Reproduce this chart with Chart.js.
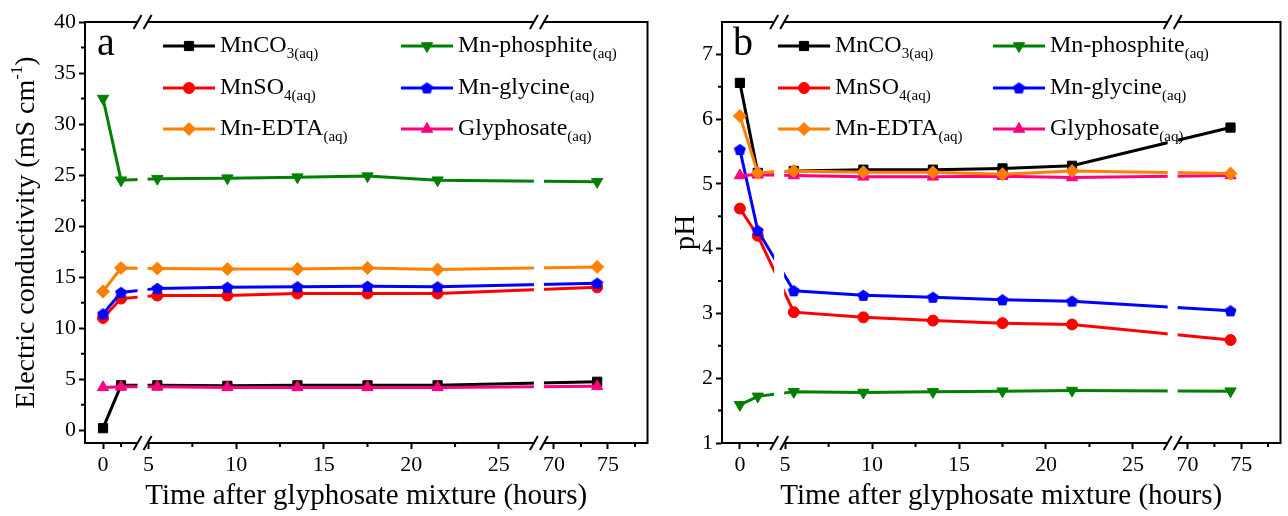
<!DOCTYPE html>
<html>
<head>
<meta charset="utf-8">
<script src="https://cdn.jsdelivr.net/npm/chart.js@4.4.0/dist/chart.umd.min.js"></script>
<style>
  html, body { margin: 0; padding: 0; background: #fff; }
  .panel { position: absolute; top: 0; height: 516px; }
  #wrapA { left: 0; width: 655px; }
  #wrapB { left: 655px; width: 633px; }
</style>
</head>
<body>
<div class="panel" id="wrapA"><canvas id="chartA"></canvas></div>
<div class="panel" id="wrapB"><canvas id="chartB"></canvas></div>
<script>
// sampling times (hours after mixing)
const hours = [0, 1, 5.5, 9.5, 13.5, 17.5, 21.5, 74];
const xTicks = [0, 5, 10, 15, 20, 25, 70, 75];
const xMinor = [1, 7.5, 12.5, 17.5, 22.5, 72.5, 77.5];

const seriesNames = ['MnCO', 'MnSO', 'Mn-EDTA', 'Mn-phosphite', 'Mn-glycine', 'Glyphosate'];
const seriesSubs = ['3(aq)', '4(aq)', '(aq)', '(aq)', '(aq)', '(aq)'];
const seriesColors = ['#000000', '#ff0000', '#ff8000', '#008000', '#0000ff', '#ff0080'];

// electric conductivity (mS cm-1)
const ecMnCO3 = [0.2, 4.4, 4.4, 4.35, 4.4, 4.4, 4.4, 4.75];
const ecMnSO4 = [11.0, 12.9, 13.2, 13.2, 13.4, 13.4, 13.4, 14.0];
const ecMnEDTA = [13.6, 15.9, 15.85, 15.8, 15.8, 15.9, 15.75, 16.0];
const ecMnPhosphite = [32.5, 24.5, 24.65, 24.7, 24.8, 24.9, 24.5, 24.35];
const ecMnGlycine = [11.4, 13.5, 13.9, 14.0, 14.05, 14.1, 14.05, 14.4];
const ecGlyphosate = [4.2, 4.25, 4.25, 4.2, 4.2, 4.2, 4.2, 4.3];

// pH
const phMnCO3 = [6.56, 5.17, 5.2, 5.22, 5.22, 5.24, 5.28, 5.87];
const phMnSO4 = [4.62, 4.2, 3.02, 2.94, 2.89, 2.85, 2.83, 2.59];
const phMnEDTA = [6.05, 5.17, 5.2, 5.18, 5.18, 5.15, 5.2, 5.16];
const phMnPhosphite = [1.59, 1.72, 1.79, 1.78, 1.79, 1.8, 1.81, 1.8];
const phMnGlycine = [5.53, 4.28, 3.35, 3.28, 3.25, 3.21, 3.19, 3.04];
const phGlyphosate = [5.13, 5.14, 5.13, 5.11, 5.11, 5.12, 5.1, 5.13];

const ecTicks = [0, 5, 10, 15, 20, 25, 30, 35, 40];
const ecMinor = [2.5, 7.5, 12.5, 17.5, 22.5, 27.5, 32.5, 37.5];
const phTicks = [1, 2, 3, 4, 5, 6, 7];
const phMinor = [1.5, 2.5, 3.5, 4.5, 5.5, 6.5];

const serif = '"Liberation Serif", "Times New Roman", serif';

// broken time axis: hours -> axis units (three segments)
function toAxis(h) {
    if (h < 3) return 18 + 18 * h;
    if (h < 40) return 63.5 + 17.5 * (h - 5);
    return 468.5 + 10.8 * (h - 70);
}
const axisBreaks = [57.5, 453.5];

// pentagon marker for Mn-glycine
function pentagon(color) {
    const c = document.createElement('canvas');
    c.width = 13; c.height = 13;
    const g = c.getContext('2d');
    g.fillStyle = color;
    g.beginPath();
    for (let k = 0; k < 5; k++) {
        const a = -Math.PI / 2 + k * 2 * Math.PI / 5;
        const px = 6.5 + 6.3 * Math.cos(a), py = 7 + 6.3 * Math.sin(a);
        k ? g.lineTo(px, py) : g.moveTo(px, py);
    }
    g.closePath();
    g.fill();
    return c;
}

const seriesMarkers = ['rect', 'circle', 'rectRot', 'triangle', pentagon('#0000ff'), 'triangle'];
const seriesRotation = [0, 0, 0, 180, 0, 0];
const seriesRadius = [6.5, 5.5, 6.5, 6.5, 6, 6.5];
const drawOrder = [6, 5, 1, 4, 3, 2];

function drawRichText(ctx, x, y, main, sub, size, subSize, shift) {
    ctx.font = size + 'px ' + serif;
    ctx.fillText(main, x, y);
    const w = ctx.measureText(main).width;
    ctx.font = subSize + 'px ' + serif;
    ctx.fillText(sub, x + w, y + shift);
    return w + ctx.measureText(sub).width;
}

const panelDecor = {
    id: 'panelDecor',
    afterDatasetsDraw(chart, args, cfg) {
        const {ctx, chartArea: area, scales: {x, y}} = chart;
        ctx.save();
        ctx.strokeStyle = '#000';
        ctx.lineWidth = 2;
        // top and right frame
        ctx.beginPath();
        ctx.moveTo(area.left - 1, area.top);
        ctx.lineTo(area.right, area.top);
        ctx.lineTo(area.right, area.bottom + 1);
        ctx.stroke();
        // minor ticks
        ctx.beginPath();
        xMinor.forEach(h => {
            const px = x.getPixelForValue(toAxis(h));
            ctx.moveTo(px, area.bottom);
            ctx.lineTo(px, area.bottom + 4);
        });
        cfg.yMinor.forEach(v => {
            const py = y.getPixelForValue(v);
            ctx.moveTo(area.left, py);
            ctx.lineTo(area.left - 4, py);
        });
        ctx.stroke();
        // axis breaks: white gap plus double slash on both frame edges
        axisBreaks.forEach(b => {
            const px = x.getPixelForValue(b);
            ctx.fillStyle = '#fff';
            ctx.fillRect(px - 5, area.top - 3, 10, area.bottom - area.top + 6);
            ctx.beginPath();
            [area.top, area.bottom].forEach(py => {
                [-5, 5].forEach(dx => {
                    ctx.moveTo(px + dx - 4, py + 7);
                    ctx.lineTo(px + dx + 4, py - 7);
                });
            });
            ctx.stroke();
        });
        ctx.restore();
    },
    afterDraw(chart, args, cfg) {
        const {ctx, chartArea: area} = chart;
        ctx.save();
        ctx.fillStyle = '#000';
        ctx.textBaseline = 'middle';
        ctx.textAlign = 'center';
        ctx.font = '40px ' + serif;
        ctx.fillText(cfg.letter, area.left + 21, area.top + 22);

        // legend, two columns of three
        ctx.textAlign = 'left';
        chart.data.datasets.forEach((ds, i) => {
            const lx = area.left + cfg.legendCols[Math.floor(i / 3)];
            const ly = area.top + cfg.legendRows[i % 3];
            ctx.strokeStyle = ds.borderColor;
            ctx.fillStyle = ds.borderColor;
            ctx.lineWidth = 3;
            ctx.beginPath();
            ctx.moveTo(lx, ly);
            ctx.lineTo(lx + 52, ly);
            ctx.stroke();
            ctx.lineWidth = 1;
            Chart.helpers.drawPoint(ctx, {
                pointStyle: ds.pointStyle, rotation: ds.pointRotation,
                radius: ds.pointRadius, borderWidth: 1
            }, lx + 26, ly);
            ctx.fillStyle = '#000';
            drawRichText(ctx, lx + 57, ly, seriesNames[i], seriesSubs[i], 24, 15, 8);
        });

        // y title with superscript
        if (cfg.yTitle) {
            const t = cfg.yTitle;
            ctx.translate(t.x, (area.top + area.bottom) / 2);
            ctx.rotate(-Math.PI / 2);
            ctx.font = '28px ' + serif;
            const w1 = ctx.measureText(t.main).width;
            const w3 = ctx.measureText(t.end).width;
            ctx.font = '17px ' + serif;
            const w2 = ctx.measureText(t.sup).width;
            let cx = -(w1 + w2 + w3) / 2;
            ctx.font = '28px ' + serif;
            ctx.fillText(t.main, cx, 0);
            ctx.font = '17px ' + serif;
            ctx.fillText(t.sup, cx + w1, -9);
            ctx.font = '28px ' + serif;
            ctx.fillText(t.end, cx + w1 + w2, 0);
        }
        ctx.restore();
    }
};

function buildChart(canvasId, cfg) {
    const datasets = seriesNames.map((name, i) => ({
        label: name + seriesSubs[i],
        data: hours.map((h, k) => ({x: toAxis(h), y: cfg.values[i][k]})),
        borderColor: seriesColors[i],
        backgroundColor: seriesColors[i],
        borderWidth: 3,
        pointStyle: seriesMarkers[i],
        pointRotation: seriesRotation[i],
        pointRadius: seriesRadius[i],
        pointBorderWidth: 1,
        order: drawOrder[i],
        tension: 0
    }));

    return new Chart(document.getElementById(canvasId), {
        type: 'line',
        data: {datasets},
        plugins: [panelDecor],
        options: {
            responsive: true,
            maintainAspectRatio: false,
            animation: false,
            layout: {padding: {top: 22, right: cfg.padRight, left: 0, bottom: 0}},
            plugins: {
                legend: {display: false},
                tooltip: {enabled: false},
                panelDecor: cfg
            },
            scales: {
                x: {
                    type: 'linear',
                    min: 0,
                    max: 562,
                    afterBuildTicks: s => { s.ticks = xTicks.map(h => ({value: toAxis(h)})); },
                    afterFit: s => { s.height = 73; },
                    ticks: {
                        callback: (v, i) => String(xTicks[i]),
                        font: {family: serif, size: 22},
                        color: '#000',
                        padding: 3,
                        maxRotation: 0,
                        autoSkip: false
                    },
                    grid: {drawOnChartArea: false, tickLength: 6, tickWidth: 2, tickColor: '#000'},
                    border: {color: '#000', width: 2},
                    title: {
                        display: true,
                        text: 'Time after glyphosate mixture (hours)',
                        font: {family: serif, size: 29},
                        color: '#000',
                        padding: {top: 0, bottom: 2}
                    }
                },
                y: {
                    min: cfg.yMin,
                    max: cfg.yMax,
                    afterBuildTicks: s => { s.ticks = cfg.yTicks.map(v => ({value: v})); },
                    afterFit: s => { s.width = cfg.plotLeft; },
                    ticks: {font: {family: serif, size: 22}, color: '#000', padding: 3},
                    grid: {drawOnChartArea: false, tickLength: 6, tickWidth: 2, tickColor: '#000'},
                    border: {color: '#000', width: 2},
                    title: {
                        display: !!cfg.yLabel,
                        text: cfg.yLabel || '',
                        font: {family: serif, size: 29},
                        color: '#000',
                        padding: {top: 14, bottom: 0}
                    }
                }
            }
        }
    });
}

buildChart('chartA', {
    values: [ecMnCO3, ecMnSO4, ecMnEDTA, ecMnPhosphite, ecMnGlycine, ecGlyphosate],
    yMin: -1.25, yMax: 40, yTicks: ecTicks, yMinor: ecMinor,
    plotLeft: 85, padRight: 7,
    letter: 'a',
    legendCols: [78, 316], legendRows: [24, 66, 107],
    yTitle: {x: 27, main: 'Electric conductivity (mS cm', sup: '-1', end: ')'}
});

buildChart('chartB', {
    values: [phMnCO3, phMnSO4, phMnEDTA, phMnPhosphite, phMnGlycine, phGlyphosate],
    yMin: 1, yMax: 7.5, yTicks: phTicks, yMinor: phMinor,
    plotLeft: 67, padRight: 4,
    letter: 'b',
    legendCols: [56, 271], legendRows: [24, 66, 107],
    yLabel: 'pH'
});
</script>
</body>
</html>
